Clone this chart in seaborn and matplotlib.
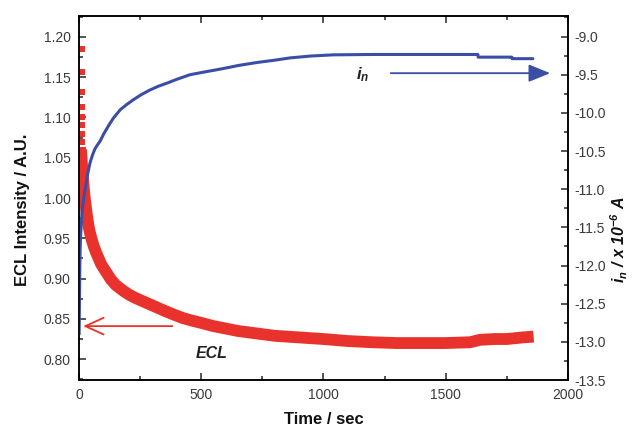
import numpy as np
import pandas as pd
import seaborn as sns
import matplotlib.pyplot as plt
from matplotlib.ticker import MultipleLocator, FormatStrFormatter

# ECL intensity (left axis)
ecl_t = [8, 10, 12, 15, 17, 21, 25, 30, 35, 40, 45, 52, 60, 70, 80, 90, 98,
         115, 130, 150, 180, 205, 230, 260, 290, 320, 350, 390, 425, 460, 500,
         550, 600, 650, 700, 750, 800, 850, 900, 950, 1000, 1100, 1200, 1300,
         1400, 1500, 1600, 1640, 1700, 1750, 1816, 1860]
ecl_v = [1.06, 1.05, 1.04, 1.028, 1.019, 1.006, 0.995, 0.983, 0.972, 0.963,
         0.956, 0.948, 0.94, 0.932, 0.925, 0.918, 0.914, 0.906, 0.899, 0.892,
         0.885, 0.880, 0.876, 0.872, 0.868, 0.864, 0.860, 0.855, 0.851, 0.848,
         0.845, 0.841, 0.838, 0.835, 0.833, 0.831, 0.829, 0.828, 0.827, 0.826,
         0.825, 0.8225, 0.821, 0.820, 0.820, 0.820, 0.821, 0.824, 0.825, 0.825,
         0.827, 0.828]

# noisy first points of the ECL trace
ecl0_t = [10, 10, 11, 11, 12, 12, 13, 13, 14]
ecl0_v = [1.185, 1.156, 1.131, 1.113, 1.10, 1.09, 1.08, 1.07, 1.06]

# current i_n (right axis), x 10^-6 A
cur_t = [0, 1, 2, 3, 4, 6, 8, 12, 18, 25, 35, 45, 55, 65, 75, 86, 100, 120,
         140, 168, 195, 221, 255, 290, 325, 360, 400, 454, 520, 589, 650, 728,
         800, 863, 950, 1039, 1200, 1632, 1633, 1771, 1772, 1857]
cur_v = [-12.9, -12.6, -12.3, -12.0, -11.81, -11.62, -11.5, -11.3, -11.13,
         -11.0, -10.8, -10.65, -10.55, -10.47, -10.42, -10.37, -10.28, -10.17,
         -10.07, -9.96, -9.89, -9.83, -9.76, -9.70, -9.65, -9.61, -9.56, -9.50,
         -9.46, -9.42, -9.38, -9.34, -9.31, -9.28, -9.255, -9.24, -9.235,
         -9.235, -9.27, -9.27, -9.29, -9.29]

red = '#e8322b'
blue = '#3b4ea6'

sns.set_theme(style="ticks")
plt.rcParams['font.family'] = ['Liberation Sans', 'DejaVu Sans']
plt.rcParams['axes.unicode_minus'] = False
plt.rcParams['mathtext.fontset'] = 'custom'
plt.rcParams['mathtext.it'] = 'Liberation Sans:italic:bold'
plt.rcParams['mathtext.rm'] = 'Liberation Sans:italic:bold'

fig = plt.figure(figsize=(6.38, 4.30), dpi=100)
ax = fig.add_axes([0.124, 0.116, 0.766, 0.847])
ax2 = ax.twinx()

df_ecl = pd.DataFrame({'t': ecl_t, 'v': ecl_v})
df_cur = pd.DataFrame({'t': cur_t, 'v': cur_v})

sns.lineplot(data=df_ecl, x='t', y='v', ax=ax, color=red, linewidth=8.5,
             solid_capstyle='butt', solid_joinstyle='round', sort=False)
sns.scatterplot(x=ecl0_t, y=ecl0_v, ax=ax, color=red, marker='s', s=22,
                linewidth=0)
sns.lineplot(data=df_cur, x='t', y='v', ax=ax2, color=blue, linewidth=2.2,
             sort=False)

ax.set_xlim(0, 2000)
ax.set_ylim(0.774, 1.226)
ax2.set_ylim(-13.5, -8.73)

ax.xaxis.set_major_locator(MultipleLocator(500))
ax.xaxis.set_minor_locator(MultipleLocator(250))
ax.yaxis.set_major_locator(MultipleLocator(0.05))
ax.yaxis.set_minor_locator(MultipleLocator(0.025))
ax.yaxis.set_major_formatter(FormatStrFormatter('%.2f'))
ax2.yaxis.set_major_locator(MultipleLocator(0.5))
ax2.yaxis.set_minor_locator(MultipleLocator(0.25))
ax2.yaxis.set_major_formatter(FormatStrFormatter('%.1f'))

lab_col = '#3a3a3a'
ax.tick_params(axis='x', which='both', direction='in', top=True, bottom=True,
               labelsize=10, labelcolor=lab_col, pad=6)
ax.tick_params(axis='x', which='major', length=5, width=1.1)
ax.tick_params(axis='x', which='minor', length=3, width=1.1)
ax.tick_params(axis='y', which='both', direction='in', left=True, right=False,
               labelsize=10, labelcolor=lab_col, pad=6)
ax.tick_params(axis='y', which='major', length=5, width=1.1)
ax.tick_params(axis='y', which='minor', length=3, width=1.1)
ax2.tick_params(axis='y', which='both', direction='in', labelsize=10,
                labelcolor=lab_col, pad=5)
ax2.tick_params(axis='y', which='major', length=5, width=1.1)
ax2.tick_params(axis='y', which='minor', length=3, width=1.1)

for a in (ax, ax2):
    for sp in a.spines.values():
        sp.set_visible(True)
        sp.set_linewidth(1.1)
        sp.set_color('black')

ax.set_xlabel('Time / sec', fontsize=12, fontweight='bold', color='#111111')
ax.set_ylabel('ECL Intensity / A.U.', fontsize=12, fontweight='bold',
              color='#111111')
ax2.set_ylabel(r'$i_n$ / x 10$^{-6}$ A', fontsize=11.5, fontweight='bold',
               fontstyle='italic', color='#111111')
ax.xaxis.set_label_coords(0.5, -0.088)
ax.yaxis.set_label_coords(-0.10, 0.467)
ax2.yaxis.set_label_coords(1.083, 0.385)

# arrows and labels
ax.annotate('', xy=(5, 0.841), xytext=(393, 0.841),
            arrowprops=dict(arrowstyle='->,head_length=1.1,head_width=0.5',
                            color=red, lw=1.3))
ax.text(544, 0.807, 'ECL', fontsize=11.5, fontweight='bold',
        fontstyle='italic', color='#222222', ha='center', va='center')
ax2.annotate('', xy=(1939, -9.48), xytext=(1264, -9.48),
             arrowprops=dict(arrowstyle='-|>,head_length=1.1,head_width=0.45',
                             color=blue, lw=1.3))
ax2.text(1162, -9.5, r'$i_n$', fontsize=12, color='#222222',
         ha='center', va='center')

plt.savefig('out.png', dpi=100)
